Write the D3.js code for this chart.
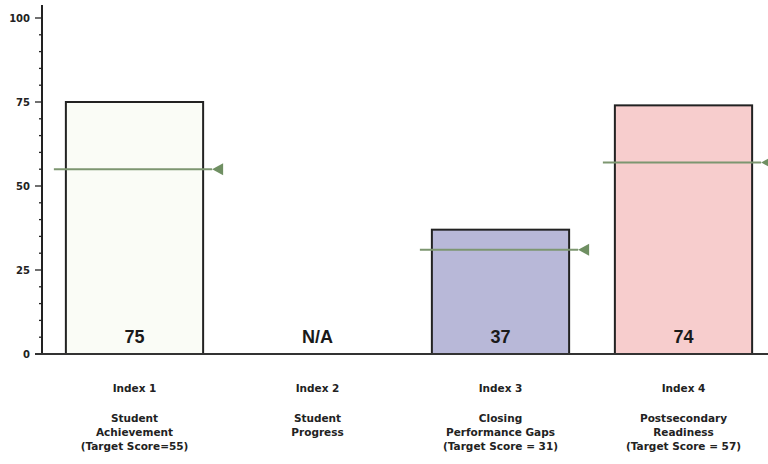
<!DOCTYPE html>
<html>
<head>
<meta charset="utf-8">
<script src="https://cdn.jsdelivr.net/npm/d3@7"></script>
<style>
  body { margin: 0; background: #fff; }
  svg { display: block; font-family: "Liberation Sans", Arial, sans-serif; }
  .small { font-family: "DejaVu Sans", Verdana, sans-serif; }
</style>
</head>
<body>
<div id="chart"></div>
<script>
// chart data
var categories = ['Index 1', 'Index 2', 'Index 3', 'Index 4'];
var scores = [75, null, 37, 74];
var targets = [55, null, 31, 57];
var scoreLabels = ['75', 'N/A', '37', '74'];
var descriptions = [
  ['Student', 'Achievement', '(Target Score=55)'],
  ['Student', 'Progress'],
  ['Closing', 'Performance Gaps', '(Target Score = 31)'],
  ['Postsecondary', 'Readiness', '(Target Score = 57)']
];
var barColors = ['#fafcf6', '#ffffff', '#b8b8d8', '#f7cdcd'];
var yTicks = [0, 25, 50, 75, 100];

var width = 768, height = 464;
var svg = d3.select('#chart').append('svg')
  .attr('width', width)
  .attr('height', height);

var x = d3.scaleBand()
  .domain(categories)
  .range([43, 775])
  .paddingInner(0.25)
  .paddingOuter(0.125);

var y = d3.scaleLinear()
  .domain([0, 100])
  .range([354, 18]);

// y axis: major ticks every 25, minor every 5
var axisX = 42;
svg.append('line')
  .attr('x1', axisX).attr('x2', axisX)
  .attr('y1', 5).attr('y2', y(0))
  .attr('stroke', '#222').attr('stroke-width', 2);

svg.append('g').selectAll('line')
  .data(d3.range(0, 101, 5))
  .enter().append('line')
  .attr('x1', function(d) { return d % 25 === 0 ? axisX - 7 : axisX - 3; })
  .attr('x2', axisX)
  .attr('y1', function(d) { return y(d); })
  .attr('y2', function(d) { return y(d); })
  .attr('stroke', '#222')
  .attr('stroke-width', 1.3);

svg.append('g').selectAll('text')
  .data(yTicks)
  .enter().append('text')
  .attr('class', 'small')
  .attr('x', 30)
  .attr('y', function(d) { return y(d); })
  .attr('dy', '0.35em')
  .attr('text-anchor', 'end')
  .attr('font-size', 10)
  .attr('font-weight', 'bold')
  .attr('fill', '#222')
  .text(function(d) { return d; });

// bars
svg.append('g').selectAll('rect')
  .data(categories.filter(function(c, i) { return scores[i] !== null; }))
  .enter().append('rect')
  .attr('x', function(d) { return x(d); })
  .attr('width', x.bandwidth())
  .attr('y', function(d) { return y(scores[categories.indexOf(d)]); })
  .attr('height', function(d) { return y(0) - y(scores[categories.indexOf(d)]); })
  .attr('fill', function(d) { return barColors[categories.indexOf(d)]; })
  .attr('stroke', '#222')
  .attr('stroke-width', 2);

// baseline
svg.append('line')
  .attr('x1', axisX - 7).attr('x2', width)
  .attr('y1', y(0)).attr('y2', y(0))
  .attr('stroke', '#333').attr('stroke-width', 2);

// target markers
var targetGroup = svg.append('g');
categories.forEach(function(c, i) {
  if (targets[i] === null) return;
  var ty = y(targets[i]);
  var left = x(c) - 12;
  var right = x(c) + x.bandwidth() + 9;
  targetGroup.append('line')
    .attr('x1', left).attr('x2', right)
    .attr('y1', ty).attr('y2', ty)
    .attr('stroke', '#7d9670')
    .attr('stroke-width', 2);
  targetGroup.append('path')
    .attr('d', 'M' + right + ',' + ty + 'L' + (right + 11) + ',' + (ty - 6) + 'L' + (right + 11) + ',' + (ty + 6) + 'Z')
    .attr('fill', '#6f8f62');
});

// value labels
svg.append('g').selectAll('text')
  .data(categories)
  .enter().append('text')
  .attr('x', function(d) { return x(d) + x.bandwidth() / 2; })
  .attr('y', 343)
  .attr('text-anchor', 'middle')
  .attr('font-size', 18)
  .attr('font-weight', 'bold')
  .attr('fill', '#1a1a1a')
  .text(function(d, i) { return scoreLabels[i]; });

// category labels
var labelGroups = svg.append('g').selectAll('g')
  .data(categories)
  .enter().append('g')
  .attr('transform', function(d) { return 'translate(' + (x(d) + x.bandwidth() / 2) + ',0)'; });

labelGroups.append('text')
  .attr('class', 'small')
  .attr('y', 392)
  .attr('text-anchor', 'middle')
  .attr('font-size', 10.5)
  .attr('font-weight', 'bold')
  .attr('fill', '#222')
  .text(function(d) { return d; });

labelGroups.each(function(d, i) {
  d3.select(this).selectAll('text.desc')
    .data(descriptions[i])
    .enter().append('text')
    .attr('class', 'desc small')
    .attr('y', function(t, j) { return 422 + j * 14; })
    .attr('text-anchor', 'middle')
    .attr('font-size', 10.5)
    .attr('font-weight', 'bold')
    .attr('fill', '#222')
    .text(function(t) { return t; });
});
</script>
</body>
</html>
